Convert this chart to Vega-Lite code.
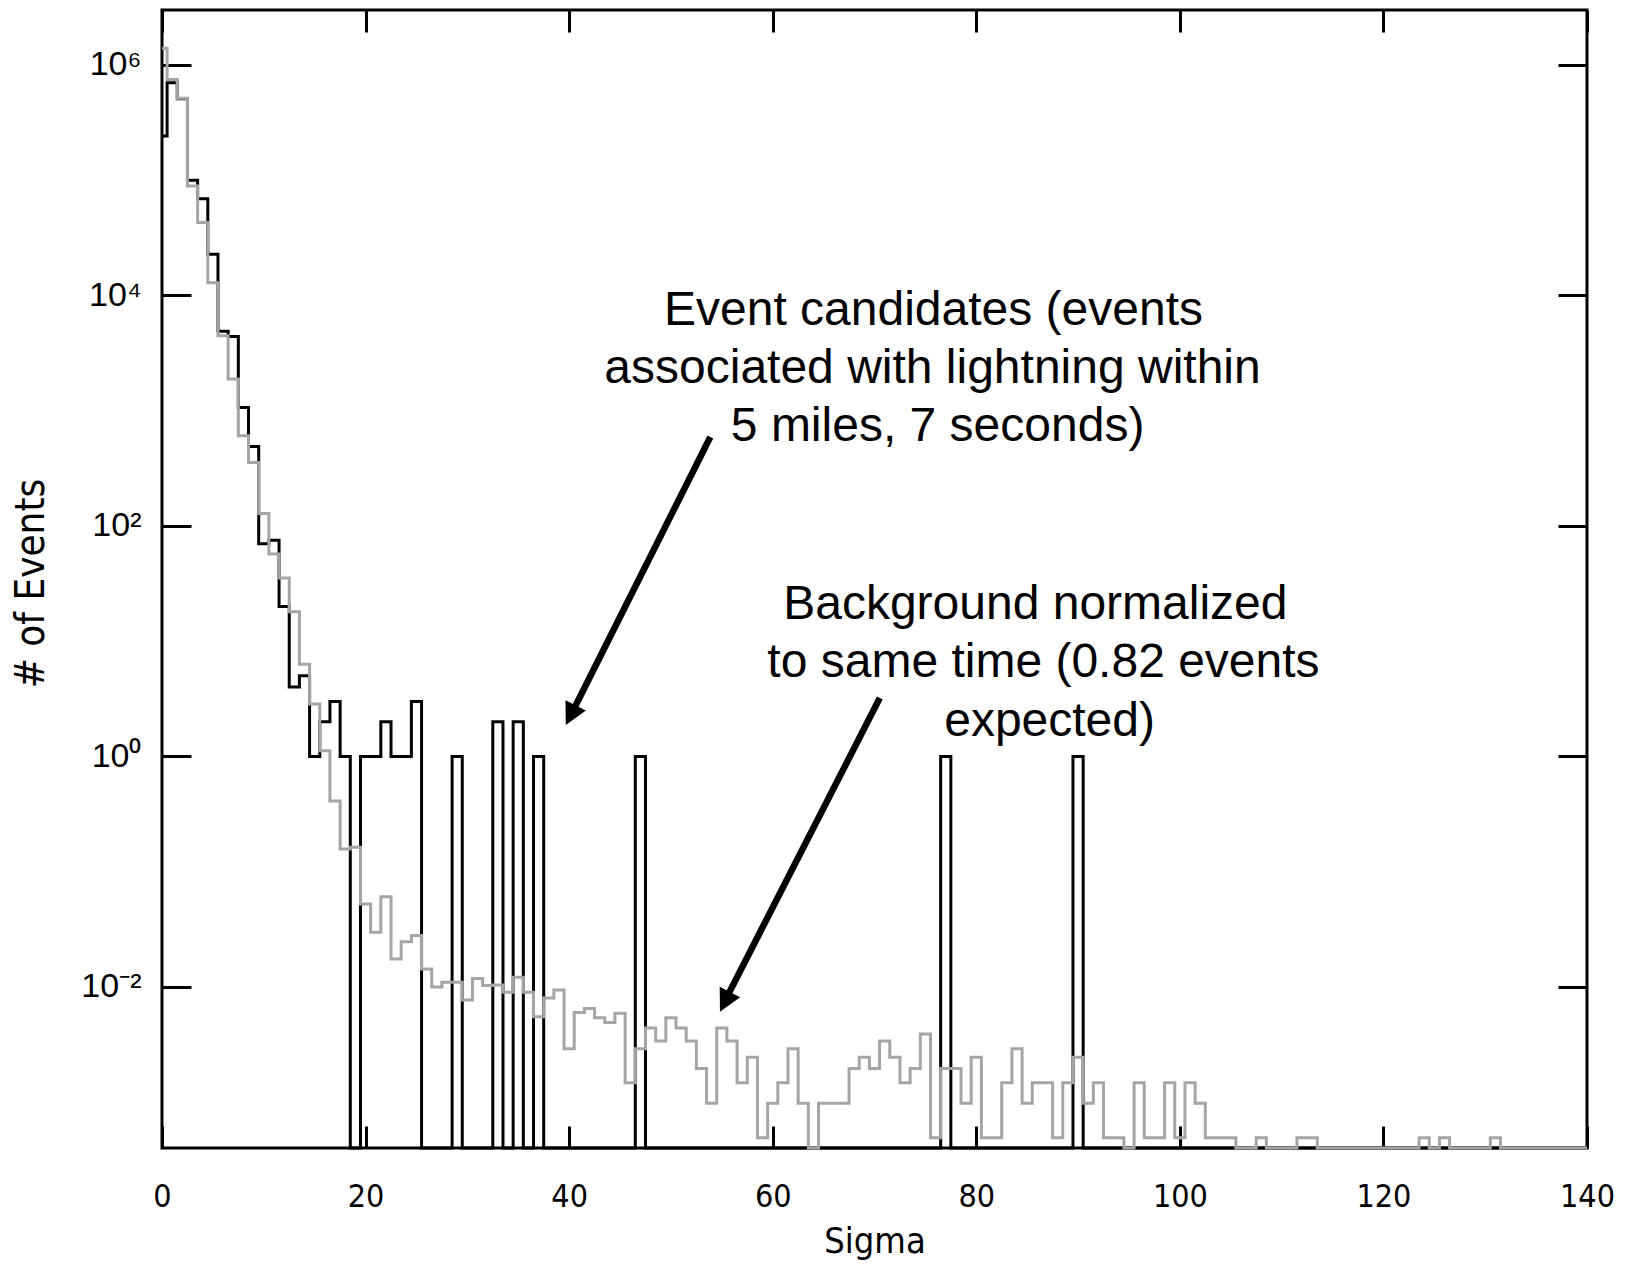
{
  "$schema": "https://vega.github.io/schema/vega-lite/v6.json",
  "width": 1425,
  "height": 1138,
  "autosize": {"type": "none"},
  "padding": {"left": 162, "top": 10, "right": 53, "bottom": 116},
  "background": "white",
  "config": {
    "view": {"stroke": "black", "strokeWidth": 3},
    "axis": {"grid": false, "domain": false, "tickColor": "black", "tickWidth": 3, "labelColor": "black", "titleColor": "black", "labelFlush": false, "labelOverlap": false, "labelBound": false}
  },
  "datasets": {
    "hist": [
      {"sigma": 0, "candidates": 242000, "background": 1400000},
      {"sigma": 1, "candidates": 700000, "background": 750000},
      {"sigma": 2, "candidates": 510000, "background": 514000},
      {"sigma": 3, "candidates": 100000, "background": 89000},
      {"sigma": 4, "candidates": 69000, "background": 43000},
      {"sigma": 5, "candidates": 22800, "background": 12900},
      {"sigma": 6, "candidates": 4900, "background": 4470},
      {"sigma": 7, "candidates": 4400, "background": 1880},
      {"sigma": 8, "candidates": 1067, "background": 605},
      {"sigma": 9, "candidates": 490, "background": 356},
      {"sigma": 10, "candidates": 70, "background": 128},
      {"sigma": 11, "candidates": 75, "background": 57},
      {"sigma": 12, "candidates": 20, "background": 35.3},
      {"sigma": 13, "candidates": 4, "background": 18},
      {"sigma": 14, "candidates": 5, "background": 6.3},
      {"sigma": 15, "candidates": 1, "background": 2.85},
      {"sigma": 16, "candidates": 2, "background": 1.12},
      {"sigma": 17, "candidates": 3, "background": 0.41},
      {"sigma": 18, "candidates": 1, "background": 0.157},
      {"sigma": 19, "candidates": 0, "background": 0.163},
      {"sigma": 20, "candidates": 1, "background": 0.0525},
      {"sigma": 21, "candidates": 1, "background": 0.0298},
      {"sigma": 22, "candidates": 2, "background": 0.0607},
      {"sigma": 23, "candidates": 1, "background": 0.0175},
      {"sigma": 24, "candidates": 1, "background": 0.0247},
      {"sigma": 25, "candidates": 3, "background": 0.0279},
      {"sigma": 26, "candidates": 0, "background": 0.0143},
      {"sigma": 27, "candidates": 0, "background": 0.0100},
      {"sigma": 28, "candidates": 0, "background": 0.0110},
      {"sigma": 29, "candidates": 1, "background": 0.0110},
      {"sigma": 30, "candidates": 0, "background": 0.0077},
      {"sigma": 31, "candidates": 0, "background": 0.0118},
      {"sigma": 32, "candidates": 0, "background": 0.0103},
      {"sigma": 33, "candidates": 2, "background": 0.0104},
      {"sigma": 34, "candidates": 0, "background": 0.0090},
      {"sigma": 35, "candidates": 2, "background": 0.0121},
      {"sigma": 36, "candidates": 0, "background": 0.0090},
      {"sigma": 37, "candidates": 1, "background": 0.0055},
      {"sigma": 38, "candidates": 0, "background": 0.0080},
      {"sigma": 39, "candidates": 0, "background": 0.0094},
      {"sigma": 40, "candidates": 0, "background": 0.0029},
      {"sigma": 41, "candidates": 0, "background": 0.0060},
      {"sigma": 42, "candidates": 0, "background": 0.0065},
      {"sigma": 43, "candidates": 0, "background": 0.0054},
      {"sigma": 44, "candidates": 0, "background": 0.0049},
      {"sigma": 45, "candidates": 0, "background": 0.0059},
      {"sigma": 46, "candidates": 0, "background": 0.00147},
      {"sigma": 47, "candidates": 1, "background": 0.0029},
      {"sigma": 48, "candidates": 0, "background": 0.0044},
      {"sigma": 49, "candidates": 0, "background": 0.0034},
      {"sigma": 50, "candidates": 0, "background": 0.0054},
      {"sigma": 51, "candidates": 0, "background": 0.0044},
      {"sigma": 52, "candidates": 0, "background": 0.0034},
      {"sigma": 53, "candidates": 0, "background": 0.00196},
      {"sigma": 54, "candidates": 0, "background": 0.00098},
      {"sigma": 55, "candidates": 0, "background": 0.0044},
      {"sigma": 56, "candidates": 0, "background": 0.0034},
      {"sigma": 57, "candidates": 0, "background": 0.00147},
      {"sigma": 58, "candidates": 0, "background": 0.00245},
      {"sigma": 59, "candidates": 0, "background": 0.00049},
      {"sigma": 60, "candidates": 0, "background": 0.00098},
      {"sigma": 61, "candidates": 0, "background": 0.00147},
      {"sigma": 62, "candidates": 0, "background": 0.0029},
      {"sigma": 63, "candidates": 0, "background": 0.00098},
      {"sigma": 64, "candidates": 0, "background": 0},
      {"sigma": 65, "candidates": 0, "background": 0.00098},
      {"sigma": 66, "candidates": 0, "background": 0.00098},
      {"sigma": 67, "candidates": 0, "background": 0.00098},
      {"sigma": 68, "candidates": 0, "background": 0.00196},
      {"sigma": 69, "candidates": 0, "background": 0.00245},
      {"sigma": 70, "candidates": 0, "background": 0.00196},
      {"sigma": 71, "candidates": 0, "background": 0.0034},
      {"sigma": 72, "candidates": 0, "background": 0.00245},
      {"sigma": 73, "candidates": 0, "background": 0.00147},
      {"sigma": 74, "candidates": 0, "background": 0.00196},
      {"sigma": 75, "candidates": 0, "background": 0.0039},
      {"sigma": 76, "candidates": 0, "background": 0.00049},
      {"sigma": 77, "candidates": 1, "background": 0.00196},
      {"sigma": 78, "candidates": 0, "background": 0.00196},
      {"sigma": 79, "candidates": 0, "background": 0.00098},
      {"sigma": 80, "candidates": 0, "background": 0.00245},
      {"sigma": 81, "candidates": 0, "background": 0.00049},
      {"sigma": 82, "candidates": 0, "background": 0.00049},
      {"sigma": 83, "candidates": 0, "background": 0.00147},
      {"sigma": 84, "candidates": 0, "background": 0.0029},
      {"sigma": 85, "candidates": 0, "background": 0.00098},
      {"sigma": 86, "candidates": 0, "background": 0.00147},
      {"sigma": 87, "candidates": 0, "background": 0.00147},
      {"sigma": 88, "candidates": 0, "background": 0.00049},
      {"sigma": 89, "candidates": 0, "background": 0.00147},
      {"sigma": 90, "candidates": 1, "background": 0.00245},
      {"sigma": 91, "candidates": 0, "background": 0.00098},
      {"sigma": 92, "candidates": 0, "background": 0.00147},
      {"sigma": 93, "candidates": 0, "background": 0.00049},
      {"sigma": 94, "candidates": 0, "background": 0.00049},
      {"sigma": 95, "candidates": 0, "background": 0},
      {"sigma": 96, "candidates": 0, "background": 0.00147},
      {"sigma": 97, "candidates": 0, "background": 0.00049},
      {"sigma": 98, "candidates": 0, "background": 0.00049},
      {"sigma": 99, "candidates": 0, "background": 0.00147},
      {"sigma": 100, "candidates": 0, "background": 0.00049},
      {"sigma": 101, "candidates": 0, "background": 0.00147},
      {"sigma": 102, "candidates": 0, "background": 0.00098},
      {"sigma": 103, "candidates": 0, "background": 0.00049},
      {"sigma": 104, "candidates": 0, "background": 0.00049},
      {"sigma": 105, "candidates": 0, "background": 0.00049},
      {"sigma": 106, "candidates": 0, "background": 0},
      {"sigma": 107, "candidates": 0, "background": 0},
      {"sigma": 108, "candidates": 0, "background": 0.00049},
      {"sigma": 109, "candidates": 0, "background": 0},
      {"sigma": 110, "candidates": 0, "background": 0},
      {"sigma": 111, "candidates": 0, "background": 0},
      {"sigma": 112, "candidates": 0, "background": 0.00049},
      {"sigma": 113, "candidates": 0, "background": 0.00049},
      {"sigma": 114, "candidates": 0, "background": 0},
      {"sigma": 115, "candidates": 0, "background": 0},
      {"sigma": 116, "candidates": 0, "background": 0},
      {"sigma": 117, "candidates": 0, "background": 0},
      {"sigma": 118, "candidates": 0, "background": 0},
      {"sigma": 119, "candidates": 0, "background": 0},
      {"sigma": 120, "candidates": 0, "background": 0},
      {"sigma": 121, "candidates": 0, "background": 0},
      {"sigma": 122, "candidates": 0, "background": 0},
      {"sigma": 123, "candidates": 0, "background": 0},
      {"sigma": 124, "candidates": 0, "background": 0.00049},
      {"sigma": 125, "candidates": 0, "background": 0},
      {"sigma": 126, "candidates": 0, "background": 0.00049},
      {"sigma": 127, "candidates": 0, "background": 0},
      {"sigma": 128, "candidates": 0, "background": 0},
      {"sigma": 129, "candidates": 0, "background": 0},
      {"sigma": 130, "candidates": 0, "background": 0},
      {"sigma": 131, "candidates": 0, "background": 0.00049},
      {"sigma": 132, "candidates": 0, "background": 0},
      {"sigma": 133, "candidates": 0, "background": 0},
      {"sigma": 134, "candidates": 0, "background": 0},
      {"sigma": 135, "candidates": 0, "background": 0},
      {"sigma": 136, "candidates": 0, "background": 0},
      {"sigma": 137, "candidates": 0, "background": 0},
      {"sigma": 138, "candidates": 0, "background": 0},
      {"sigma": 139, "candidates": 0, "background": 0},
      {"sigma": 140, "candidates": 0, "background": 0}
    ],
    "notes": [
      {"label": "Event candidates (events", "x": 75.8, "y": 7330},
      {"label": "associated with lightning within", "x": 75.7, "y": 2300},
      {"label": "5 miles, 7 seconds)", "x": 76.2, "y": 721},
      {"label": "Background normalized", "x": 85.8, "y": 20.8},
      {"label": "to same time (0.82 events", "x": 86.6, "y": 6.47},
      {"label": "expected)", "x": 87.2, "y": 1.99}
    ],
    "arrows": [
      {"arrow": "candidates", "x0": 53.87, "y0": 591, "x1": 40.34, "y1": 2.45, "xt": 39.67, "yt": 1.875},
      {"arrow": "background", "x0": 70.52, "y0": 3.21, "x1": 55.47, "y1": 0.00807, "xt": 54.82, "yt": 0.0061}
    ]
  },
  "layer": [
    {
      "data": {"name": "hist"},
      "mark": {"type": "line", "interpolate": "step", "color": "black", "strokeWidth": 3, "strokeJoin": "miter", "strokeCap": "butt"},
      "encoding": {
        "x": {
          "field": "sigma", "type": "quantitative",
          "scale": {"domain": [0, 140], "nice": false, "zero": false},
          "axis": {"orient": "bottom", "values": [0, 20, 40, 60, 80, 100, 120, 140], "tickSize": -22, "labelPadding": 55, "labelFont": "DejaVu Sans Condensed, Liberation Sans, sans-serif", "labelFontSize": 32, "labelBaseline": "top", "title": "Sigma", "titleFont": "DejaVu Sans Condensed, Liberation Sans, sans-serif", "titleFontSize": 36, "titleFontWeight": "normal", "titleBaseline": "alphabetic", "titleY": 104}
        },
        "y": {
          "field": "candidates", "type": "quantitative",
          "scale": {"type": "log", "domain": [0.0004, 3000000], "nice": false, "clamp": true},
          "axis": {"orient": "left", "values": [0.01, 1, 100, 10000, 1000000], "tickSize": -29, "labelPadding": 50, "labelFont": "Liberation Sans, sans-serif", "labelFontSize": 34, "labelBaseline": "middle", "labelExpr": "datum.value > 500000 ? '10⁶' : datum.value > 5000 ? '10⁴' : datum.value > 50 ? '10²' : datum.value > 0.5 ? '10⁰' : '10⁻²'", "title": "# of Events", "titleFont": "DejaVu Sans Condensed, Liberation Sans, sans-serif", "titleFontSize": 40, "titleFontWeight": "normal", "titleAngle": 270, "titleBaseline": "middle", "titleX": -131, "titleY": 573}
        }
      }
    },
    {
      "data": {"name": "hist"},
      "mark": {"type": "line", "interpolate": "step", "color": "#a5a5a5", "strokeWidth": 3, "strokeJoin": "miter", "strokeCap": "butt"},
      "encoding": {
        "x": {"field": "sigma", "type": "quantitative", "axis": {"orient": "top", "values": [0, 20, 40, 60, 80, 100, 120, 140], "tickSize": -22, "labels": false, "title": null}},
        "y": {"field": "background", "type": "quantitative", "axis": {"orient": "right", "values": [0.01, 1, 100, 10000, 1000000], "tickSize": -29, "labels": false, "title": null}}
      }
    },
    {
      "data": {"name": "arrows"},
      "mark": {"type": "rule", "color": "black", "strokeWidth": 6.5, "strokeCap": "butt"},
      "encoding": {
        "x": {"field": "x0", "type": "quantitative", "axis": null},
        "y": {"field": "y0", "type": "quantitative", "axis": null},
        "x2": {"field": "x1"},
        "y2": {"field": "y1"}
      }
    },
    {
      "data": {"name": "arrows"},
      "mark": {"type": "point", "shape": "M0,0L-0.52,-1L0.52,-1Z", "filled": true, "size": 1936, "angle": 26.8, "color": "black", "opacity": 1, "strokeWidth": 0},
      "encoding": {
        "x": {"field": "xt", "type": "quantitative", "axis": null},
        "y": {"field": "yt", "type": "quantitative", "axis": null}
      }
    },
    {
      "data": {"name": "notes"},
      "mark": {"type": "text", "font": "Liberation Sans, sans-serif", "fontSize": 48, "align": "center", "baseline": "middle", "color": "black"},
      "encoding": {
        "x": {"field": "x", "type": "quantitative", "axis": null},
        "y": {"field": "y", "type": "quantitative", "axis": null},
        "text": {"field": "label"}
      }
    }
  ],
  "resolve": {"axis": {"x": "independent", "y": "independent"}}
}
